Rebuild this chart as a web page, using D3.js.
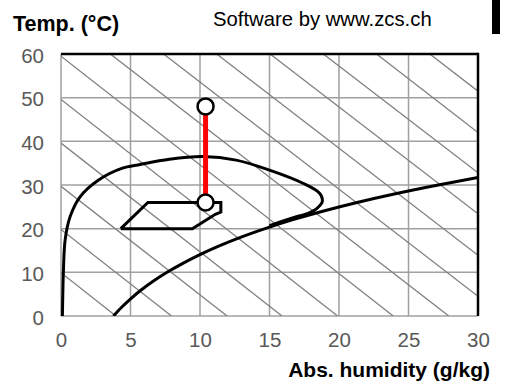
<!DOCTYPE html>
<html><head><meta charset="utf-8">
<script src="https://cdn.jsdelivr.net/npm/d3@7/dist/d3.min.js"></script>
<style>
html,body{margin:0;padding:0;background:#fff;}
svg{display:block;font-family:"Liberation Sans",Arial,sans-serif;}
</style></head><body>
<svg id="c" width="507" height="383"></svg>
<script>
// ---- data ----
const xTicks = [0, 5, 10, 15, 20, 25, 30];
const yTicks = [0, 10, 20, 30, 40, 50, 60];
// saturation curve (abs. humidity g/kg, temp °C)
const saturationX = [3.77, 4.36, 5.03, 5.79, 6.65, 7.63, 8.73, 9.96, 11.34, 12.91, 14.68, 16.63, 18.83, 21.30, 24.06, 27.14, 30.0];
const saturationT = [0, 2, 4, 6, 8, 10, 12, 14, 16, 18, 20, 22, 24, 26, 28, 30, 31.7];
// envelope curve
const envelopeX = [0.1, 0.13, 0.17, 0.3, 0.65, 1.37, 2.68, 4.37, 5.7, 7.8, 10.2, 12.6, 15.0, 17.4, 18.6, 18.8, 18.4, 17.9, 16.6, 15.0];
const envelopeT = [0, 5, 10, 17.5, 22.7, 27.3, 31.1, 33.8, 34.7, 35.9, 36.5, 35.7, 33.4, 30.4, 28.1, 26.2, 24.6, 23.7, 22.4, 20.7];
// polygon zone
const zoneX = [4.3, 6.25, 11.5, 11.5, 11.1, 9.45, 4.3];
const zoneT = [20, 26, 26, 23.8, 23.3, 20, 20];
// process (red line)
const processX = [10.4, 10.4];
const processT = [26, 48];
// enthalpy lines: endpoints [x0, T0, x1, T1]
const enthalpyLines = [
  [0, 9.9, 3.95, 0],
  [0, 19.8, 7.95, 0],
  [0, 29.7, 11.95, 0],
  [0, 39.6, 15.9, 0],
  [0, 49.6, 19.9, 0],
  [0, 59.5, 23.9, 0],
  [3.55, 60, 27.9, 0],
  [7.38, 60, 30, 4.5],
  [11.2, 60, 30, 13.9],
  [15.04, 60, 30, 23.4],
  [18.87, 60, 30, 32.8],
  [22.7, 60, 30, 42.0],
  [26.53, 60, 30, 51.5]
];

// ---- drawing ----
const svg = d3.select("#c");
const x = d3.scaleLinear().domain([0, 30]).range([61, 478]);
const y = d3.scaleLinear().domain([0, 60]).range([316, 54]);

svg.append("defs").append("clipPath").attr("id", "clip")
  .append("rect").attr("x", x(0)).attr("y", y(60)).attr("width", x(30) - x(0)).attr("height", y(0) - y(60));

const grid = svg.append("g");
grid.selectAll("line.v").data(xTicks).join("line")
  .attr("x1", d => x(d)).attr("x2", d => x(d)).attr("y1", y(0)).attr("y2", y(60))
  .attr("stroke", "#a0a0a0").attr("stroke-width", 1.5);
grid.selectAll("line.h").data(yTicks).join("line")
  .attr("y1", d => y(d)).attr("y2", d => y(d)).attr("x1", x(0)).attr("x2", x(30))
  .attr("stroke", "#a0a0a0").attr("stroke-width", 1.5);

svg.append("g").attr("clip-path", "url(#clip)")
  .selectAll("line").data(enthalpyLines).join("line")
  .attr("x1", d => x(d[0])).attr("y1", d => y(d[1]))
  .attr("x2", d => x(d[2])).attr("y2", d => y(d[3]))
  .attr("stroke", "#808080").attr("stroke-width", 1.3);

// frame top/right black
svg.append("line").attr("x1", x(0)).attr("x2", x(30)).attr("y1", y(60)).attr("y2", y(60))
  .attr("stroke", "#000").attr("stroke-width", 2.5);
svg.append("line").attr("x1", x(30)).attr("x2", x(30)).attr("y1", y(60) - 1.2).attr("y2", y(0))
  .attr("stroke", "#000").attr("stroke-width", 2.5);

const line = d3.line().x(d => x(d[0])).y(d => y(d[1]));
const curve = d3.line().x(d => x(d[0])).y(d => y(d[1])).curve(d3.curveCatmullRom);

const sat = saturationX.map((v, i) => [v, saturationT[i]]);
const env = envelopeX.map((v, i) => [v, envelopeT[i]]);
const zone = zoneX.map((v, i) => [v, zoneT[i]]);
const proc = processX.map((v, i) => [v, processT[i]]);

svg.append("path").attr("d", curve(sat)).attr("fill", "none").attr("stroke", "#000").attr("stroke-width", 3).attr("clip-path", "url(#clip)");
svg.append("path").attr("d", curve(env)).attr("fill", "none").attr("stroke", "#000").attr("stroke-width", 3);
svg.append("path").attr("d", line(zone)).attr("fill", "none").attr("stroke", "#000").attr("stroke-width", 3).attr("stroke-linejoin", "miter");
svg.append("path").attr("d", line(proc)).attr("fill", "none").attr("stroke", "#ff0000").attr("stroke-width", 5);
svg.selectAll("circle.p").data(proc).join("circle")
  .attr("cx", d => x(d[0])).attr("cy", d => y(d[1])).attr("r", 8)
  .attr("fill", "#fff").attr("stroke", "#000").attr("stroke-width", 2.5);

// axes
const xa = svg.append("g").attr("transform", `translate(0,${y(0)})`)
  .call(d3.axisBottom(x).tickValues(xTicks).tickSize(0).tickPadding(16).tickFormat(d3.format("d")));
const ya = svg.append("g").attr("transform", `translate(${x(0)},1.5)`)
  .call(d3.axisLeft(y).tickValues(yTicks).tickSize(0).tickPadding(17).tickFormat(d3.format("d")));
[xa, ya].forEach(a => {
  a.select(".domain").remove();
  a.selectAll("text").attr("fill", "#595959").style("font-size", "20.5px").style("font-family", '"Liberation Sans",Arial,sans-serif');
});

// titles
svg.append("text").attr("x", 13).attr("y", 31).attr("font-weight", "bold").attr("font-size", 21.5).attr("fill", "#000").text("Temp. (°C)");
svg.append("text").attr("x", 213).attr("y", 26).attr("font-size", 20.3).attr("fill", "#000").text("Software by www.zcs.ch");
svg.append("text").attr("x", 490).attr("y", 377).attr("text-anchor", "end").attr("font-weight", "bold").attr("font-size", 21).attr("fill", "#000").text("Abs. humidity (g/kg)");
svg.append("rect").attr("x", 492).attr("y", 0).attr("width", 8).attr("height", 34).attr("fill", "#000");
</script>
</body></html>
